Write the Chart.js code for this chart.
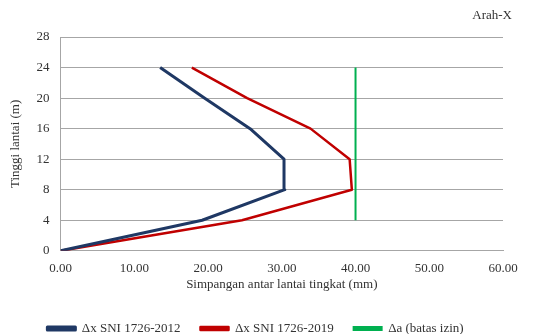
<!DOCTYPE html>
<html>
<head>
<meta charset="utf-8">
<script src="https://cdn.jsdelivr.net/npm/chart.js@4/dist/chart.umd.min.js"></script>
<style>
  html, body { margin: 0; padding: 0; background: #fff; }
  #wrap { width: 534px; height: 334px; }
</style>
</head>
<body>
<div id="wrap"><canvas id="myChart" width="534" height="334"></canvas></div>
<script>
// floor heights (m)
let tinggi = [0, 4, 8, 12, 16, 20, 24];
// story drift (mm)
let drift2012 = [0, 19.2, 30.4, 30.3, 25.7, 19.5, 13.5];
let drift2019 = [0, 24.6, 39.5, 39.2, 33.9, 25.3, 17.8];
// allowable drift
let tinggiIzin = [4, 8, 12, 16, 20, 24];
let batasIzin = [40, 40, 40, 40, 40, 40];

let seriesNames = ['\u0394x SNI 1726-2012', '\u0394x SNI 1726-2019', '\u0394a (batas izin)'];
let judul = 'Arah-X';

function toPoints(xs, ys) {
    let pts = [];
    for (let i = 0; i < xs.length; i++) {
        pts.push({ x: xs[i], y: ys[i] });
    }
    return pts;
}

const font = 'Liberation Serif';
Chart.defaults.font.family = font;
Chart.defaults.color = '#333333';

// title sits near the right edge, above the plot
const cornerTitle = {
    id: 'cornerTitle',
    afterDraw(chart) {
        const c = chart.ctx;
        c.save();
        c.font = '13px ' + font;
        c.fillStyle = '#333333';
        c.textAlign = 'right';
        c.textBaseline = 'middle';
        c.fillText(judul, chart.width - 22, 16);
        c.restore();
    }
};

var ctx = document.getElementById('myChart');
var chart = new Chart(ctx, {
    type: 'scatter',
    data: {
        datasets: [
            {
                label: seriesNames[0],
                data: toPoints(drift2012, tinggi),
                showLine: true,
                borderColor: '#1f3864',
                backgroundColor: '#1f3864',
                borderWidth: 3,
                borderJoinStyle: 'round',
                pointRadius: 0,
                tension: 0
            },
            {
                label: seriesNames[1],
                data: toPoints(drift2019, tinggi),
                showLine: true,
                borderColor: '#c00000',
                backgroundColor: '#c00000',
                borderWidth: 2.5,
                borderJoinStyle: 'round',
                pointRadius: 0,
                tension: 0
            },
            {
                label: seriesNames[2],
                data: toPoints(batasIzin, tinggiIzin),
                showLine: true,
                borderColor: '#00b050',
                backgroundColor: '#00b050',
                borderWidth: 2,
                pointRadius: 0,
                tension: 0
            }
        ]
    },
    options: {
        responsive: false,
        animation: false,
        layout: { padding: { left: 8, right: 31, top: 37, bottom: -11 } },
        scales: {
            x: {
                type: 'linear',
                min: 0,
                max: 60,
                ticks: {
                    stepSize: 10,
                    font: { size: 13 },
                    padding: 10,
                    callback: (v) => v.toFixed(2)
                },
                grid: { display: false, drawTicks: false },
                border: { display: true, color: '#a6a6a6' },
                title: {
                    display: true,
                    text: 'Simpangan antar lantai tingkat (mm)',
                    font: { size: 13 },
                    padding: { top: -10, bottom: 10 }
                }
            },
            y: {
                type: 'linear',
                min: 0,
                max: 28,
                ticks: {
                    stepSize: 4,
                    font: { size: 13 },
                    padding: 11
                },
                grid: { color: '#a6a6a6', drawTicks: false },
                border: { display: true, color: '#a6a6a6' },
                title: {
                    display: true,
                    text: 'Tinggi lantai (m)',
                    font: { size: 13 },
                    padding: { top: 0, bottom: 2 }
                }
            }
        },
        plugins: {
            legend: {
                position: 'bottom',
                labels: {
                    boxWidth: 28,
                    boxHeight: 3,
                    font: { size: 13 },
                    padding: 20
                }
            },
            tooltip: { enabled: false }
        }
    },
    plugins: [cornerTitle]
});
</script>
</body>
</html>
